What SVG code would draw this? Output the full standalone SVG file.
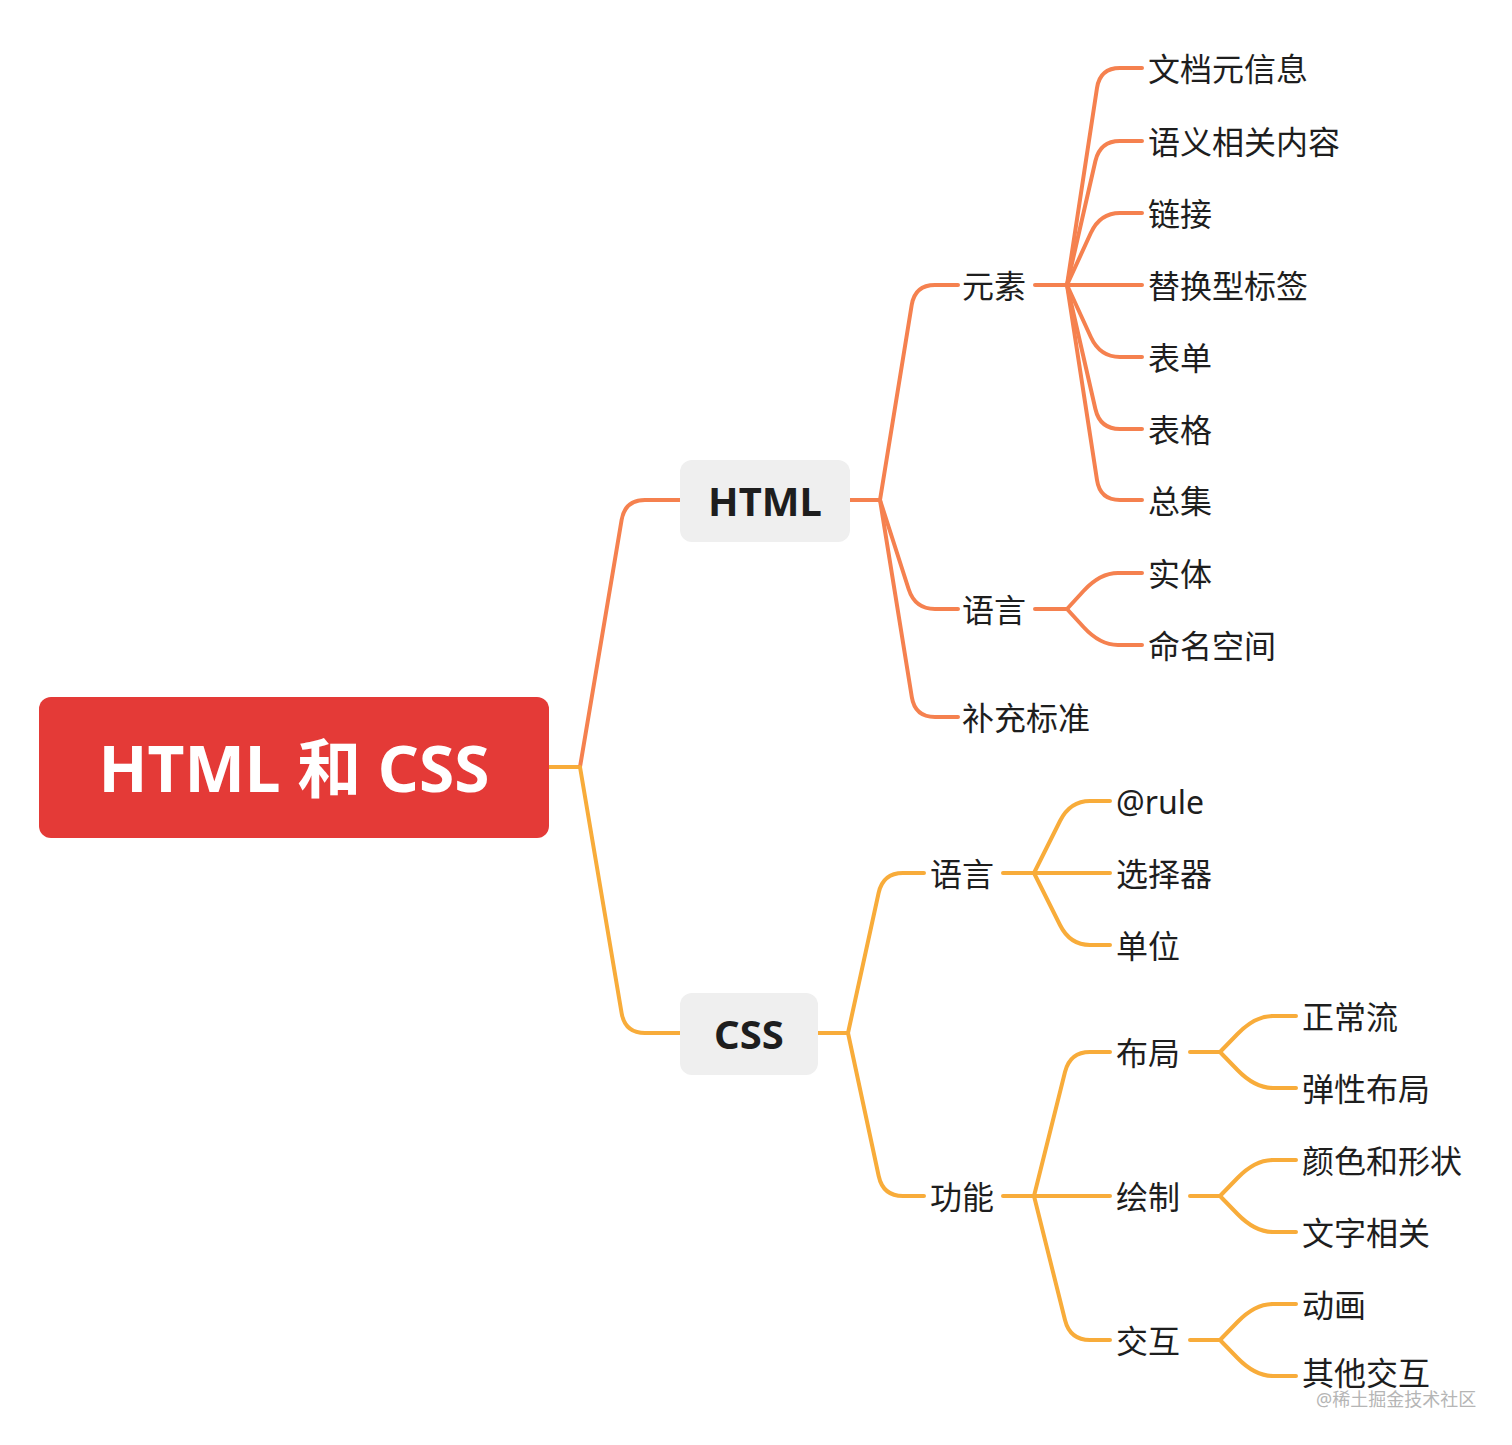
<svg xmlns="http://www.w3.org/2000/svg" width="1512" height="1445" viewBox="0 0 1512 1445">
<style>
.h{fill:none;stroke:#f5814f;stroke-width:4;stroke-linecap:round}
.c{fill:none;stroke:#f8ac3a;stroke-width:4;stroke-linecap:round}
text{font-family:"Noto Sans","Noto Sans CJK SC",sans-serif;dominant-baseline:central;fill:#1e1e1e}
.t{font-size:32px}
.b{font-size:40px;font-weight:bold;text-anchor:middle}
</style>
<rect width="1512" height="1445" fill="#fff"/>
<g id="connectors">
<path class="c" d="M549 767H580"/>
<path class="h" d="M580 767L621.6 520Q625 500 645 500H680"/>
<path class="c" d="M580 767L621.6 1013Q625 1033 645 1033H680"/>
<path class="h" d="M850 500H880"/>
<path class="h" d="M880 500L911.7 305Q915 285 935 285H958"/>
<path class="h" d="M880 500L908.6 589Q915 609 935 609H958"/>
<path class="h" d="M880 500L911.8 697Q915 717 935 717H958"/>
<path class="h" d="M1035 285H1142"/>
<path class="h" d="M1067 285L1097 88Q1100 68 1120 68H1142"/>
<path class="h" d="M1067 285L1095.4 161Q1100 141 1120 141H1142"/>
<path class="h" d="M1067 285L1090.8 233Q1100 213 1120 213H1142"/>
<path class="h" d="M1067 285L1090.8 337Q1100 357 1120 357H1142"/>
<path class="h" d="M1067 285L1095.4 409Q1100 429 1120 429H1142"/>
<path class="h" d="M1067 285L1097 480Q1100 500 1120 500H1142"/>
<path class="h" d="M1035 609H1067"/>
<path class="h" d="M1067 609L1083.5 591Q1100 573 1118 573H1142"/>
<path class="h" d="M1067 609L1083.5 627Q1100 645 1118 645H1142"/>
<path class="c" d="M818 1033H848"/>
<path class="c" d="M848 1033L878.6 893Q883 873 903 873H924"/>
<path class="c" d="M848 1033L878.7 1176Q883 1196 903 1196H924"/>
<path class="c" d="M1003 873H1110"/>
<path class="c" d="M1034 873L1060 821Q1070 801 1090 801H1110"/>
<path class="c" d="M1034 873L1060 925Q1070 945 1090 945H1110"/>
<path class="c" d="M1003 1196H1110"/>
<path class="c" d="M1034 1196L1065 1072Q1070 1052 1090 1052H1110"/>
<path class="c" d="M1034 1196L1065 1320Q1070 1340 1090 1340H1110"/>
<path class="c" d="M1190 1052H1220"/>
<path class="c" d="M1220 1052L1237.5 1034Q1255 1016 1273 1016H1296"/>
<path class="c" d="M1220 1052L1237.5 1070Q1255 1088 1273 1088H1296"/>
<path class="c" d="M1190 1196H1220"/>
<path class="c" d="M1220 1196L1237.5 1178Q1255 1160 1273 1160H1296"/>
<path class="c" d="M1220 1196L1237.5 1214Q1255 1232 1273 1232H1296"/>
<path class="c" d="M1190 1340H1220"/>
<path class="c" d="M1220 1340L1237.5 1322Q1255 1304 1273 1304H1296"/>
<path class="c" d="M1220 1340L1237.5 1358Q1255 1376 1273 1376H1296"/>
</g>
<g id="root"><rect x="39" y="697" width="510" height="141" rx="12" fill="#e43a37"/><text x="294" y="767" font-size="64" font-weight="bold" text-anchor="middle" style="fill:#fff">HTML 和 CSS</text></g>
<g id="html"><rect x="680" y="460" width="170" height="82" rx="12" fill="#efefef"/><text class="b" x="765" y="500">HTML</text></g>
<g id="css"><rect x="680" y="993" width="138" height="82" rx="12" fill="#efefef"/><text class="b" x="749" y="1033">CSS</text></g>
<g id="n1"><text class="t" x="962" y="285">元素</text></g>
<g id="n2"><text class="t" x="962" y="609">语言</text></g>
<g id="n3"><text class="t" x="962" y="717">补充标准</text></g>
<g id="n4"><text class="t" x="1148" y="68">文档元信息</text></g>
<g id="n5"><text class="t" x="1148" y="141">语义相关内容</text></g>
<g id="n6"><text class="t" x="1148" y="213">链接</text></g>
<g id="n7"><text class="t" x="1148" y="285">替换型标签</text></g>
<g id="n8"><text class="t" x="1148" y="357">表单</text></g>
<g id="n9"><text class="t" x="1148" y="429">表格</text></g>
<g id="n10"><text class="t" x="1148" y="500">总集</text></g>
<g id="n11"><text class="t" x="1148" y="573">实体</text></g>
<g id="n12"><text class="t" x="1148" y="645">命名空间</text></g>
<g id="n13"><text class="t" x="930" y="873">语言</text></g>
<g id="n14"><text class="t" x="930" y="1196">功能</text></g>
<g id="n15"><text class="t" x="1116" y="801">@rule</text></g>
<g id="n16"><text class="t" x="1116" y="873">选择器</text></g>
<g id="n17"><text class="t" x="1116" y="945">单位</text></g>
<g id="n18"><text class="t" x="1116" y="1052">布局</text></g>
<g id="n19"><text class="t" x="1116" y="1196">绘制</text></g>
<g id="n20"><text class="t" x="1116" y="1340">交互</text></g>
<g id="n21"><text class="t" x="1302" y="1016">正常流</text></g>
<g id="n22"><text class="t" x="1302" y="1088">弹性布局</text></g>
<g id="n23"><text class="t" x="1302" y="1160">颜色和形状</text></g>
<g id="n24"><text class="t" x="1302" y="1232">文字相关</text></g>
<g id="n25"><text class="t" x="1302" y="1304">动画</text></g>
<g id="n26"><text class="t" x="1302" y="1372">其他交互</text></g>
<text x="1316" y="1399" font-size="18" style="fill:#b5b5b5">@稀土掘金技术社区</text>
</svg>
